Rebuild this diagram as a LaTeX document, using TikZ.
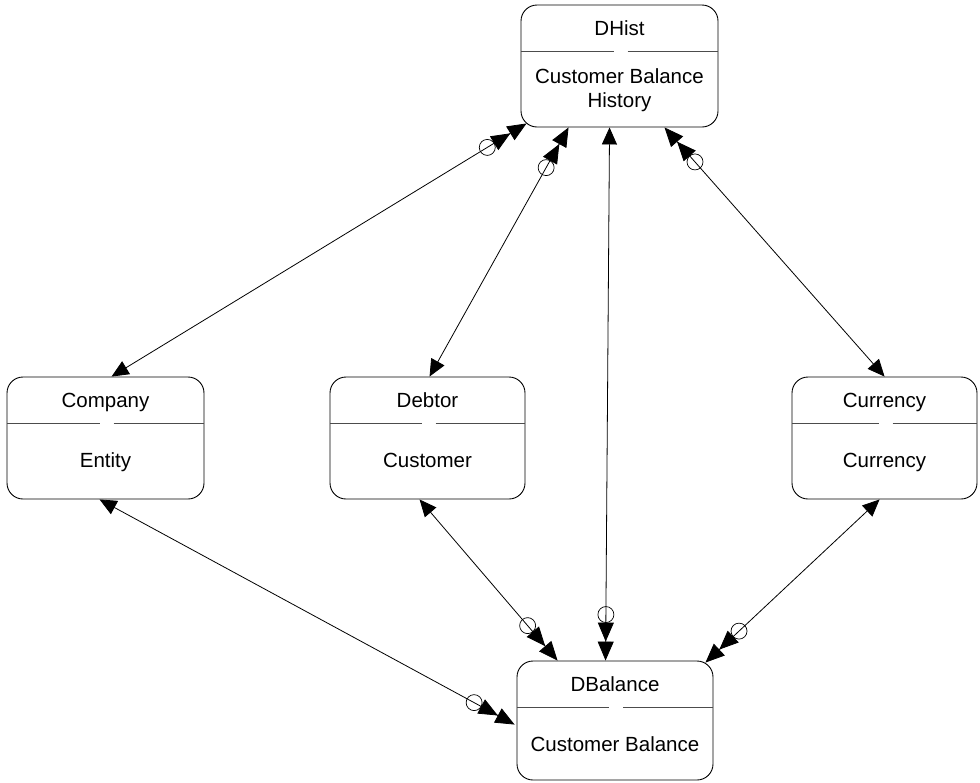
\documentclass[tikz,border=0pt]{standalone}
\usepackage{fontspec}
\setmainfont{Liberation Sans}
\usetikzlibrary{arrows.meta,calc,fit}
\tikzset{
  erbox/.style={draw, line width=0.9pt, rounded corners=16pt, inner sep=0pt},
  divline/.style={draw=black!70, line width=0.9pt},
  lbl/.style={font=\fontsize{20.5}{24}\selectfont, inner sep=0pt, anchor=base},
  rel/.style={line width=0.8pt, {Triangle[length=17pt,width=15pt]}-{Triangle[length=19pt,width=16pt]Triangle[length=19pt,width=16pt]}},
  opt/.style={draw, circle, minimum size=16pt, inner sep=0pt, line width=0.7pt},
}
% name, x1, y1, x2, y2, title, body, body baseline offset
\newcommand\erent[8]{%
  \node[erbox, fit={(#2,#3) (#4,#5)}] (#1) {};
  \node[lbl] (#1-t) at ({(#2+#4)/2},{#3+30.8}) {#6};
  \draw[divline] ({#2},{#3+46}) -- ({(#2+#4)/2-6},{#3+46})
                 ({(#2+#4)/2+8},{#3+46}) -- ({#4},{#3+46});
  \node[lbl] (#1-b) at ({(#2+#4)/2},{#3+#8}) {#7};
}
\newcommand\relate[3]{%
  \coordinate (#1s) at (#2);
  \coordinate (#1e) at (#3);
  \draw[rel] (#1s) -- (#1e);
  \node[opt] (#1o) at ($(#1e)!46pt!(#1s)$) {};
}
\begin{document}
\begin{tikzpicture}[x=1pt,y=-1pt]
\useasboundingbox (0,0) rectangle (980,782);

\erent{dhist}{521}{5}{718}{127}{DHist}{Customer Balance}{78}
\node[lbl] (dhist-b2) at (619.5,107.3) {History};
\erent{company}{7}{377}{204}{499}{Company}{Entity}{90.8}
\erent{debtor}{330}{377}{525}{499}{Debtor}{Customer}{90.8}
\erent{currency}{792}{377}{977}{499}{Currency}{Currency}{90.8}
\erent{dbalance}{517}{661}{713}{780}{DBalance}{Customer Balance}{90.5}

\relate{ra}{$(company.north west)+(105,0)$}{$(dhist.south west)+(6,-4)$}
\relate{rb}{$(debtor.north west)+(100,0)$}{$(dhist.south west)+(48,0)$}
\relate{rc}{$(dhist.south west)+(89,0)$}{$(dbalance.north west)+(89,0)$}
\relate{rd}{$(currency.north west)+(93,0)$}{$(dhist.south west)+(144,0)$}
\relate{re}{$(company.south west)+(93,0)$}{$(dbalance.north west)+(-2,64)$}
\relate{rf}{$(debtor.south west)+(90,0)$}{$(dbalance.north west)+(41,0)$}
\relate{rg}{$(currency.south west)+(88,0)$}{$(dbalance.north east)+(-8,2)$}
\end{tikzpicture}
\end{document}
